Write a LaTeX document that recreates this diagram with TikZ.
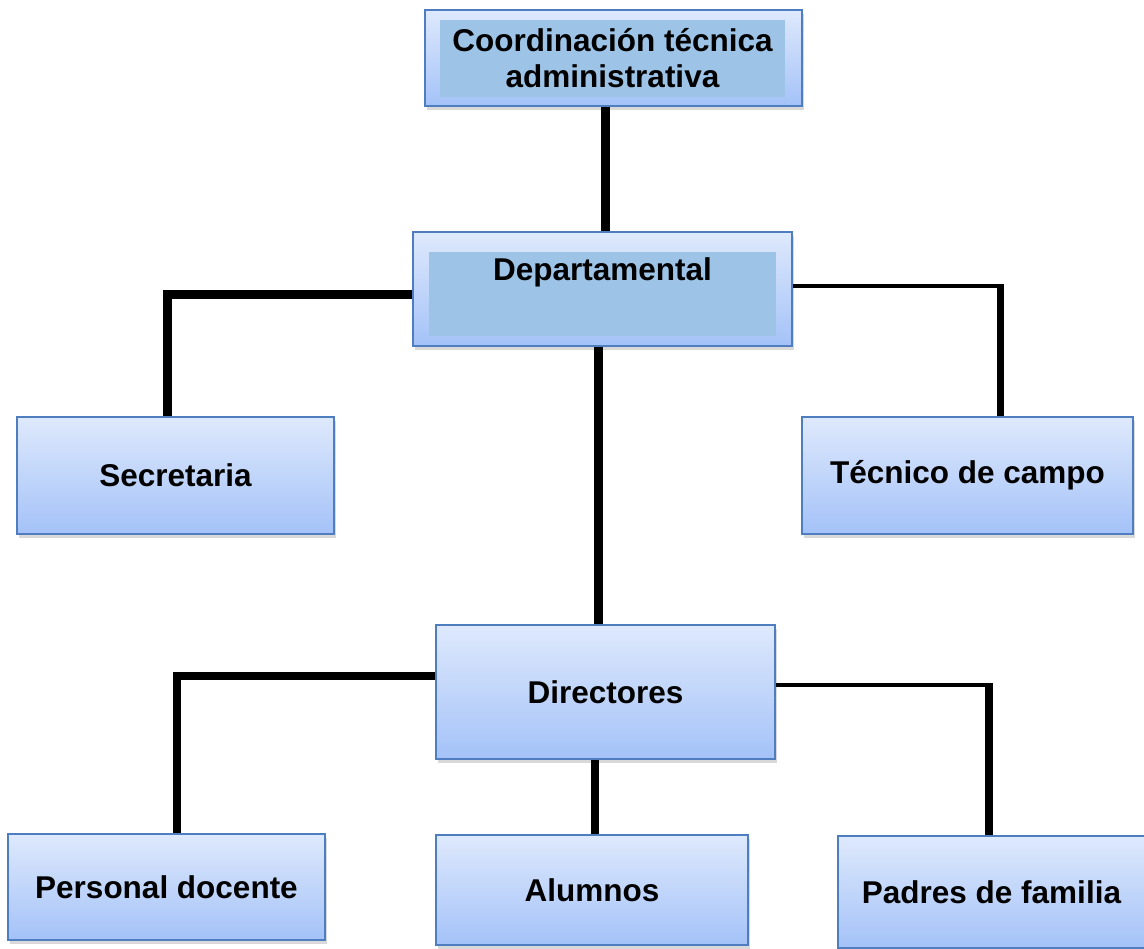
\documentclass[tikz,border=0pt]{standalone}
\usepackage{fontspec}
\setmainfont{Liberation Sans}
\usetikzlibrary{shadows,calc}
\definecolor{boxtop}{HTML}{DEE9FC}
\definecolor{boxbot}{HTML}{A4C2F8}
\definecolor{boxline}{HTML}{4F7EC0}
\definecolor{innerfill}{HTML}{9DC3E6}
\tikzset{
  orgbox/.style={draw=boxline, line width=1.5pt, top color=boxtop, bottom color=boxbot,
    drop shadow={opacity=0.3, shadow xshift=2pt, shadow yshift=-4pt},
    inner sep=0pt, font=\fontsize{31.5}{36}\selectfont\bfseries, align=center},
  innerbox/.style={fill=innerfill, inner sep=0pt, font=\fontsize{31.5}{36}\selectfont\bfseries, align=center},
  lbl/.style={font=\fontsize{31.5}{36}\selectfont\bfseries, align=center, inner sep=0pt},
  wide/.style={line width=9pt, black},
  med/.style={line width=8pt, black},
  slim/.style={line width=4pt, black},
}
\begin{document}
\begin{tikzpicture}[x=1pt,y=-1pt]
\useasboundingbox (0,0) rectangle (1144,949);
\node[orgbox, minimum width=377pt, minimum height=96pt] (coord) at (613.5,58) {};
\node[innerbox, minimum width=345pt, minimum height=77pt] (coordin) at (612.5,58.5) {Coordinación técnica\\administrativa};
\node[orgbox, minimum width=379pt, minimum height=114pt] (dept) at (602.5,289) {};
\node[innerbox, minimum width=347pt, minimum height=84pt] (deptin) at (602.5,294) {};
\node[lbl] (deptlbl) at (602.5,272) {Departamental};
\node[orgbox, minimum width=317pt, minimum height=117pt] (secr) at (175.5,475.5) {Secretaria};
\node[orgbox, minimum width=331pt, minimum height=117pt] (tec) at (967.5,475.5) {Técnico de campo};
\node[orgbox, minimum width=339pt, minimum height=134pt] (dir) at (605.5,692) {Directores};
\node[orgbox, minimum width=317pt, minimum height=106pt] (pers) at (166.5,887) {Personal docente};
\node[orgbox, minimum width=312pt, minimum height=110pt] (alum) at (592,890) {Alumnos};
\node[orgbox, minimum width=307pt, minimum height=112pt] (padr) at (991.5,892) {Padres de familia};
\coordinate (kR) at (1000,286.5);
\coordinate (kP) at (989,685);
\draw[wide] ([xshift=-8.5pt]coord.south) -- ([xshift=-8.5pt]coord.south |- dept.north);
\draw[wide] ([yshift=-6pt]dept.west) -| ([xshift=-8.5pt]secr.north);
\draw[slim] ([yshift=2.5pt]dept.east) -- ([xshift=3.5pt]kR);
\draw[line width=7pt] ([yshift=2pt]kR) -- (kR |- tec.north);
\draw[wide] ([xshift=-4.5pt]dept.south) -- ([xshift=-4.5pt]dept.south |- dir.north);
\draw[med] ([yshift=16pt]dir.west) -| ([xshift=10.5pt]pers.north);
\draw[slim] ([yshift=7pt]dir.east) -- ([xshift=4pt]kP);
\draw[med] ([yshift=2pt]kP) -- (kP |- padr.north);
\draw[med] ([xshift=-10.5pt]dir.south) -- ([xshift=-10.5pt]dir.south |- alum.north);
\end{tikzpicture}
\end{document}
